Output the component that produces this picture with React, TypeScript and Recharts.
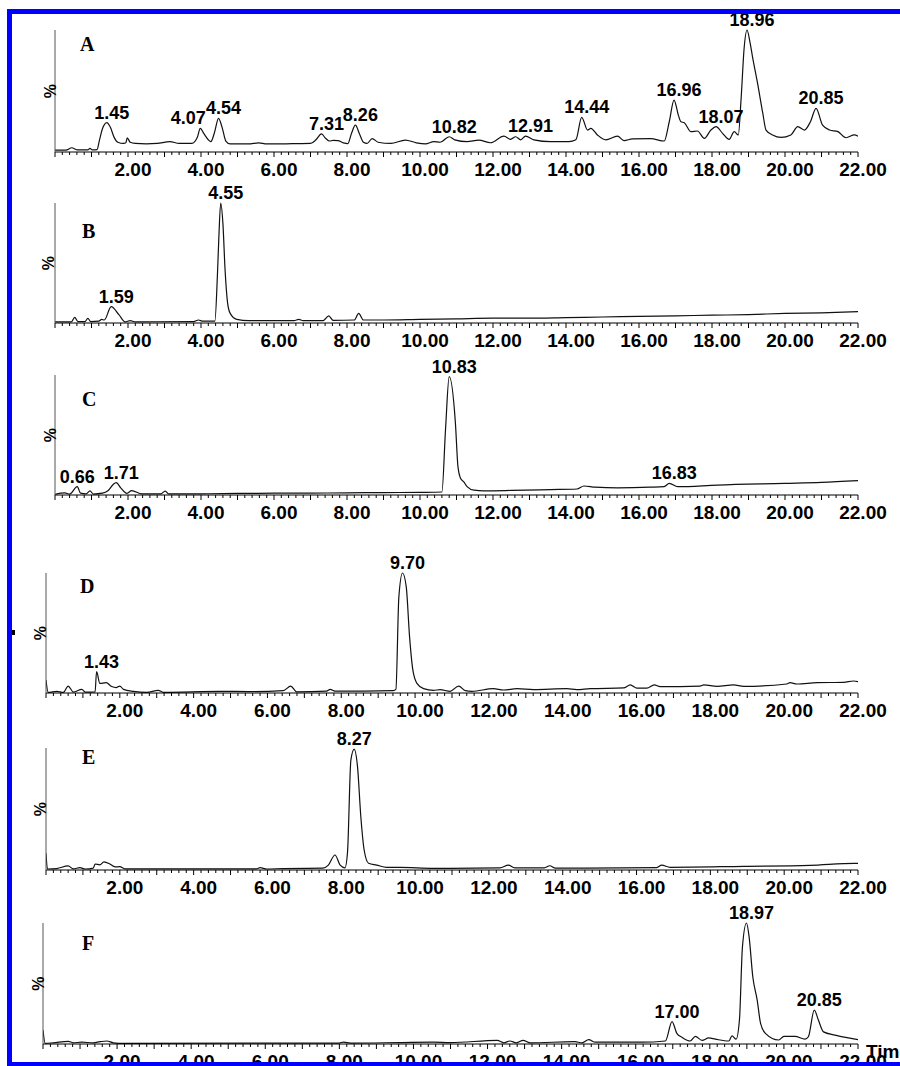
import { ComposedChart, Line, Scatter, XAxis, YAxis } from 'recharts';

// retention time (min) vs relative intensity (%)
const traceA: [number, number][] = [
  [0, 1.5], [0.3, 1.5], [0.46, 3.5], [0.6, 1.8], [0.9, 1.8], [0.96, 3], [1.02, 1.8], [1.15, 2], [1.22, 10],
  [1.3, 19], [1.42, 24], [1.52, 20], [1.62, 12], [1.72, 8], [1.88, 7], [1.94, 7.5], [1.98, 11.5], [2.06, 8],
  [2.2, 7], [2.5, 6.6], [2.8, 7], [3.15, 8.5], [3.4, 7], [3.75, 7], [3.9, 12], [3.98, 19.4], [4.08, 15],
  [4.2, 10], [4.27, 8.5], [4.37, 16], [4.48, 27.6], [4.58, 20], [4.68, 9], [4.8, 6.6], [5.3, 6.6], [5.58, 7.5],
  [5.8, 6.6], [6.5, 6.8], [7.0, 7], [7.15, 10], [7.3, 14.8], [7.42, 11], [7.52, 9], [7.62, 9.5], [7.75, 9.3],
  [7.9, 7.5], [8.02, 6.8], [8.12, 15], [8.23, 22], [8.34, 15], [8.45, 8], [8.55, 7], [8.69, 11], [8.85, 8],
  [9.2, 7], [9.6, 9.8], [9.9, 7.5], [10.15, 6.6], [10.38, 8.5], [10.55, 8], [10.8, 12.5], [10.95, 10],
  [11.29, 8.5], [11.61, 9.8], [11.93, 7.6], [12.3, 13], [12.48, 10.4], [12.62, 12.5], [12.76, 10], [12.89, 13],
  [13.12, 10], [13.58, 8.5], [14.08, 8.5], [14.27, 10], [14.43, 28.4], [14.59, 18], [14.68, 19.4], [14.86, 14],
  [15.09, 10], [15.41, 13], [15.59, 9.3], [15.82, 10.7], [16.32, 11], [16.69, 9], [16.83, 25], [16.96, 42.6],
  [17.08, 30], [17.15, 24.8], [17.24, 24], [17.42, 16.7], [17.6, 17.2], [17.79, 11.2], [17.97, 18], [18.11, 20.8],
  [18.29, 15.3], [18.47, 10.4], [18.61, 16.7], [18.72, 14], [18.8, 45], [18.88, 85], [18.96, 100], [19.04, 90],
  [19.11, 78], [19.25, 56], [19.39, 32], [19.48, 18], [19.66, 14], [19.89, 12], [20.16, 14], [20.35, 20.8],
  [20.53, 18], [20.7, 25], [20.85, 35.8], [21.03, 22], [21.22, 18], [21.45, 16.7], [21.67, 11.7], [21.9, 14], [22, 13],
];

const traceB: [number, number][] = [
  [0, 1], [0.45, 1], [0.54, 4.7], [0.63, 1.2], [0.82, 1.2], [0.9, 3.9], [0.98, 1.2], [1.2, 1.5], [1.28, 3],
  [1.35, 2.5], [1.54, 13.6], [1.75, 7], [1.92, 1], [2.06, 2], [2.2, 1], [3.8, 1.2], [3.93, 2.5], [4.05, 1.5],
  [4.38, 1.5], [4.45, 40], [4.49, 72], [4.54, 100], [4.6, 83], [4.66, 44], [4.73, 16.4], [4.8, 8], [4.98, 3],
  [5.3, 2], [6.55, 2], [6.68, 3], [6.8, 2], [7.35, 2], [7.5, 6], [7.62, 2.2], [8.2, 2.5], [8.32, 8], [8.45, 2.5],
  [9, 2.5], [10, 3], [11, 3.5], [12, 4], [13, 4], [14, 4.5], [15, 5], [16, 5.5], [17, 6], [18, 6.5], [19, 7],
  [20, 8], [21, 8.5], [22, 9.5],
];

const traceC: [number, number][] = [
  [0, 0.5], [0.27, 1.7], [0.4, 0.8], [0.61, 7], [0.7, 1.5], [0.85, 1], [0.96, 3.4], [1.05, 0.8], [1.3, 1.5],
  [1.45, 3.5], [1.6, 9], [1.68, 10.3], [1.8, 6], [1.97, 1.4], [2.1, 3.6], [2.38, 1], [2.9, 1], [3.02, 3.3],
  [3.11, 0.9], [4, 1], [5, 1.3], [6, 1.5], [7, 1.6], [8, 1.8], [9, 2], [10, 2.2], [10.6, 2.5], [10.7, 55],
  [10.8, 98.6], [10.97, 60], [11.04, 23.6], [11.11, 14], [11.2, 11], [11.29, 7], [11.48, 4], [11.75, 3.5],
  [12.5, 3.8], [13.58, 4.5], [14.3, 5], [14.49, 7.5], [14.8, 6.5], [15.41, 6], [16.3, 6.5], [16.69, 7],
  [16.83, 9.7], [17.06, 6.9], [18.15, 8.3], [19.98, 9.7], [21, 10.5], [22, 12],
];

const traceD: [number, number][] = [
  [0, 10.8], [0.06, 0.5], [0.29, 1.4], [0.47, 0.5], [0.6, 5.8], [0.74, 0.8], [0.97, 3], [1.06, 0.8], [1.33, 1],
  [1.37, 17.8], [1.46, 8], [1.63, 8.6], [1.78, 5.4], [1.9, 4.5], [2.0, 5.8], [2.1, 3], [2.37, 1.4], [2.73, 0.6],
  [3.04, 2.2], [3.18, 0.6], [4.72, 1.4], [5.5, 1.2], [6.43, 2], [6.63, 5.8], [6.79, 1], [7.6, 1.5], [7.7, 3],
  [7.83, 1.5], [9.41, 2], [9.48, 3], [9.56, 80], [9.66, 100], [9.76, 88.6], [9.85, 47], [9.94, 19], [10.05, 8],
  [10.23, 3.6], [10.5, 2.2], [10.68, 2.8], [10.95, 1.4], [11.18, 5.8], [11.36, 2], [11.54, 1.4], [12.12, 3.6],
  [12.4, 2.5], [12.76, 3.6], [13.21, 2.8], [14.11, 3.6], [14.38, 2.8], [14.74, 3.6], [15.65, 4.2], [15.83, 6.7],
  [16.01, 4], [16.28, 4], [16.48, 6.7], [16.64, 5.3], [17.72, 5.8], [17.82, 6.7], [18.18, 5.5], [18.63, 6.7],
  [18.9, 5.5], [20.07, 7.5], [20.16, 8.6], [20.34, 7.5], [20.89, 8.6], [21.61, 8.9], [21.88, 10], [22, 9.5],
];

const traceE: [number, number][] = [
  [0, 13.7], [0.04, 0.8], [0.29, 1.2], [0.6, 3.3], [0.74, 1], [0.92, 1.9], [1.06, 0.8], [1.28, 1.5], [1.33, 4.9],
  [1.46, 4.2], [1.57, 6.6], [1.73, 4.9], [1.87, 2.5], [2.0, 2.7], [2.14, 1], [5.7, 1], [5.8, 1.9], [5.98, 0.8],
  [6.43, 1.2], [7.5, 1.5], [7.65, 4], [7.83, 12.3], [7.97, 4], [8.1, 1.8], [8.17, 15], [8.26, 90], [8.35, 99],
  [8.44, 84.7], [8.53, 43.7], [8.62, 16.4], [8.74, 5.5], [8.96, 4], [9.23, 2.2], [9.59, 2.2], [10.5, 1.4],
  [10.95, 1.4], [12.3, 1.8], [12.53, 4], [12.7, 1.8], [13.5, 1.8], [13.65, 3.5], [13.8, 1.5], [16.55, 2],
  [16.68, 4], [16.91, 2.2], [18.9, 3], [20.7, 3.8], [21.9, 5.5], [22, 5.5],
];

const traceF: [number, number][] = [
  [0, 11.6], [0.06, 0.5], [0.28, 1], [0.68, 2.2], [0.82, 1], [1.04, 1.5], [1.36, 1], [1.54, 1.9], [1.72, 2.5],
  [1.9, 1], [2.17, 0.5], [8.0, 0.8], [8.11, 1.6], [8.3, 0.8], [9.64, 1.2], [10.53, 1.5], [11.0, 1.1], [12.26, 3],
  [12.44, 1], [12.6, 2.5], [12.78, 1], [12.96, 3], [13.14, 1], [14.36, 1.9], [14.55, 1], [14.73, 3.6],
  [14.91, 1.5], [16.17, 1.5], [16.8, 2.5], [16.98, 18.5], [17.11, 8.8], [17.25, 5.5], [17.47, 2.5], [17.61, 6.3],
  [17.79, 3], [17.97, 5], [18.15, 4], [18.51, 2.5], [18.6, 6.7], [18.71, 4], [18.8, 20], [18.88, 80],
  [18.99, 100], [19.06, 88.7], [19.16, 55.6], [19.28, 36], [19.37, 17], [19.5, 8.8], [19.86, 3.3], [20.0, 6.3],
  [20.3, 6.3], [20.57, 4], [20.66, 6], [20.82, 28], [20.93, 19.8], [21.07, 10], [21.38, 7.4], [21.74, 5], [22, 3.6],
];

// peak annotations
const peaksA = ['1.45', '4.07', '4.54', '7.31', '8.26', '10.82', '12.91', '14.44', '16.96', '18.07', '18.96', '20.85'];
const peaksB = ['1.59', '4.55'];
const peaksC = ['0.66', '1.71', '10.83', '16.83'];
const peaksD = ['1.43', '9.70'];
const peaksE = ['8.27'];
const peaksF = ['17.00', '18.97', '20.85'];

// x axis: minor tick every 0.2 min, labels every 2 min
const timeTicks = Array.from({ length: 111 }, (_, i) => i / 5);
const intensityTicks = [0, 10, 20, 30, 40, 50, 60, 70, 80, 90, 100];

const labelNudge: Record<string, number> = { '4.07': -12, '0.66': 0, '8.27': 0 };

const SANS = '"Liberation Sans", Arial, Helvetica, sans-serif';
const SERIF = '"Liberation Serif", "Times New Roman", serif';
const X_END = 858;

const panels = [
  { id: 'A', trace: traceA, peaks: peaksA, axisTop: 30, base: 152, x0: 55, letterX: 80, letterY: 51, pctX: 50 },
  { id: 'B', trace: traceB, peaks: peaksB, axisTop: 203, base: 323, x0: 55, letterX: 82, letterY: 238, pctX: 48 },
  { id: 'C', trace: traceC, peaks: peaksC, axisTop: 375, base: 495, x0: 55, letterX: 82, letterY: 406, pctX: 50 },
  { id: 'D', trace: traceD, peaks: peaksD, axisTop: 573, base: 693, x0: 46, letterX: 80, letterY: 593, pctX: 40 },
  { id: 'E', trace: traceE, peaks: peaksE, axisTop: 748, base: 870, x0: 46, letterX: 82, letterY: 764, pctX: 40 },
  { id: 'F', trace: traceF, peaks: peaksF, axisTop: 923, base: 1044, x0: 43, letterX: 82, letterY: 950, pctX: 38 },
];

function peakPoint(trace: [number, number][], label: string) {
  const t = parseFloat(label);
  let best: { t: number; v: number } | null = null;
  for (const [pt, pv] of trace) {
    if (Math.abs(pt - t) <= 0.2 && (!best || pv > best.v)) {
      best = { t: pt, v: pv };
    }
  }
  return { t: best ? best.t : t, v: best ? best.v : 0, text: label };
}

function TimeTick(props: any) {
  const { x, y, payload } = props;
  const value = Number(payload.value);
  const whole = Math.abs(value - Math.round(value)) < 1e-6;
  const labelled = whole && Math.round(value) % 2 === 0 && value > 0;
  return (
    <g>
      <line x1={x} x2={x} y1={y} y2={y + (whole ? 5 : 3)} stroke="#000" strokeWidth={1} />
      {labelled && (
        <text x={x + 5} y={y + 24} textAnchor="middle" fontFamily={SANS} fontWeight="bold" fontSize={19} fill="#000">
          {value.toFixed(2)}
        </text>
      )}
    </g>
  );
}

function PeakLabel(props: any) {
  const { cx, cy, payload } = props;
  if (cx == null || cy == null) return <g />;
  const dx = labelNudge[payload.text] ?? 5;
  return (
    <text x={cx + dx} y={cy - 4} textAnchor="middle" fontFamily={SANS} fontWeight="bold" fontSize={18} fill="#000">
      {payload.text}
    </text>
  );
}

const TOP_PAD = 28;
const AXIS_H = 34;

function Panel({ panel }: { panel: (typeof panels)[number] }) {
  const data = panel.trace.map(([t, v]) => ({ t, v }));
  const labels = panel.peaks.map((p) => peakPoint(panel.trace, p));
  const height = panel.base - panel.axisTop + TOP_PAD + AXIS_H;
  return (
    <div style={{ position: 'absolute', left: 0, top: panel.axisTop - TOP_PAD, width: 900, height }}>
      <ComposedChart
        width={900}
        height={height}
        data={data}
        margin={{ top: TOP_PAD, right: 900 - X_END, bottom: 0, left: panel.x0 - 10 }}
      >
        <XAxis
          dataKey="t"
          type="number"
          domain={[0, 22]}
          allowDataOverflow
          ticks={timeTicks}
          interval={0}
          tickLine={false}
          tickSize={0}
          tickMargin={0}
          tick={<TimeTick />}
          height={AXIS_H}
          axisLine={{ stroke: '#000', strokeWidth: 1 }}
        />
        <YAxis
          type="number"
          domain={[0, 100]}
          ticks={intensityTicks}
          interval={0}
          width={10}
          tick={false}
          tickSize={3}
          tickLine={{ stroke: '#444' }}
          axisLine={{ stroke: '#555', strokeWidth: 1 }}
        />
        <Line
          type="monotone"
          dataKey="v"
          stroke="#111"
          strokeWidth={1.2}
          dot={false}
          isAnimationActive={false}
        />
        <Scatter data={labels} dataKey="v" shape={<PeakLabel />} isAnimationActive={false} />
      </ComposedChart>
    </div>
  );
}

export default function App() {
  return (
    <div style={{ position: 'absolute', left: 0, top: 0, width: 900, height: 1066, overflow: 'hidden', background: '#fff' }}>
      {panels.map((p) => (
        <Panel key={p.id} panel={p} />
      ))}
      <svg width={900} height={1066} style={{ position: 'absolute', left: 0, top: 0, pointerEvents: 'none' }}>
        {panels.map((p) => (
          <g key={p.id}>
            <text x={p.letterX} y={p.letterY} fontFamily={SERIF} fontWeight="bold" fontSize={20} fill="#000">
              {p.id}
            </text>
            <text
              x={p.pctX}
              y={(p.axisTop + p.base) / 2}
              transform={`rotate(-90 ${p.pctX} ${(p.axisTop + p.base) / 2})`}
              textAnchor="middle"
              dominantBaseline="central"
              fontFamily={SANS}
              fontWeight="bold"
              fontSize={16}
              fill="#000"
            >
              %
            </text>
          </g>
        ))}
        <text x={866} y={1058} fontFamily={SANS} fontWeight="bold" fontSize={19} fill="#000">
          Time
        </text>
        <rect x={12} y={630} width={3} height={5} fill="#000" />
        <rect x={7} y={9} width={893} height={5} fill="#0000ff" />
        <rect x={7} y={9} width={5} height={1057} fill="#0000ff" />
        <rect x={7} y={1062} width={893} height={4} fill="#0000ff" />
      </svg>
    </div>
  );
}
